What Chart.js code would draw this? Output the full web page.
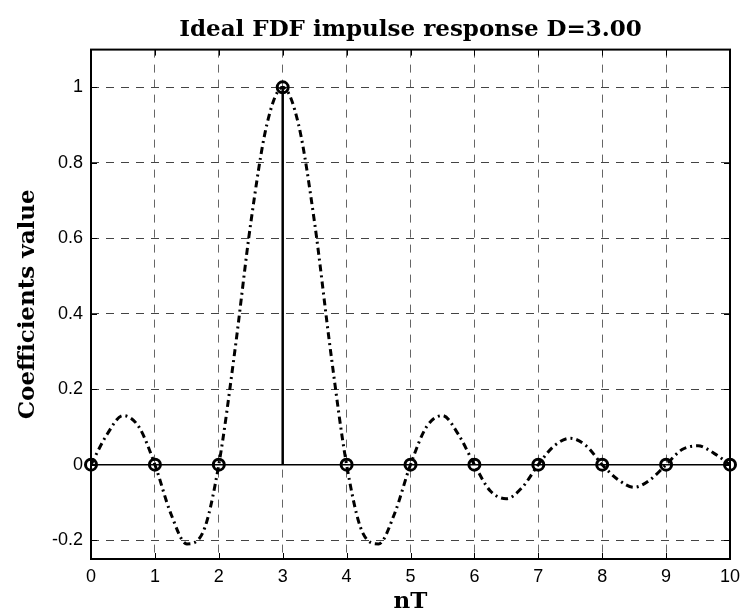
<!DOCTYPE html>
<html>
<head>
<meta charset="utf-8">
<script src="https://cdn.jsdelivr.net/npm/chart.js@4"></script>
<style>
  body { margin: 0; background: #fff; }
</style>
</head>
<body>
<canvas id="firChart" width="742" height="616"></canvas>
<script>
// ideal fractional delay filter, delay D = 3.00
var titleText = "Ideal FDF impulse response D=3.00";

// continuous response (dash-dot curve)
var curveX = [0, 0.25, 0.5, 0.75, 1, 1.25, 1.5, 1.75, 2, 2.25, 2.5, 2.75, 3,
              3.25, 3.5, 3.75, 4, 4.25, 4.5, 4.75, 5, 5.25, 5.5, 5.75, 6,
              6.25, 6.5, 6.75, 7, 7.25, 7.5, 7.75, 8, 8.25, 8.5, 8.75, 9,
              9.25, 9.5, 9.75, 10];
var curveY = [0, 0.08, 0.13, 0.10, 0, -0.13, -0.21, -0.18, 0, 0.30, 0.64, 0.90, 1,
              0.90, 0.64, 0.30, 0, -0.18, -0.21, -0.13, 0, 0.10, 0.13, 0.08, 0,
              -0.07, -0.09, -0.06, 0, 0.05, 0.07, 0.05, 0, -0.04, -0.06, -0.04, 0,
              0.04, 0.05, 0.03, 0];

// filter coefficients (stems)
var sampleX = [0, 1, 2, 3, 4, 5, 6, 7, 8, 9, 10];
var sampleY = [0, 0, 0, 1, 0, 0, 0, 0, 0, 0, 0];

var xTicks = [0, 1, 2, 3, 4, 5, 6, 7, 8, 9, 10];
var yTicks = [-0.2, 0, 0.2, 0.4, 0.6, 0.8, 1];
var yTickLabels = ["-0.2", "0", "0.2", "0.4", "0.6", "0.8", "1"];

var curvePoints = [];
for (var i = 0; i < curveX.length; i++) {
    curvePoints.push({x: curveX[i], y: curveY[i]});
}

var stemPoints = [];
var markerPoints = [];
for (var i = 0; i < sampleX.length; i++) {
    stemPoints.push({x: sampleX[i], y: 0});
    stemPoints.push({x: sampleX[i], y: sampleY[i]});
    stemPoints.push({x: sampleX[i], y: null});
    markerPoints.push({x: sampleX[i], y: sampleY[i]});
}

var baseline = [{x: sampleX[0], y: 0}, {x: sampleX[sampleX.length - 1], y: 0}];

// matlab style box with inward ticks
var boxPlugin = {
    id: 'box',
    beforeDatasetsDraw: function (chart) {
        var ctx = chart.ctx;
        var a = chart.chartArea;
        var xs = chart.scales.x;
        var ys = chart.scales.y;
        var len = 6;
        ctx.save();
        ctx.strokeStyle = '#000';
        ctx.lineWidth = 1;
        ctx.beginPath();
        xs.ticks.forEach(function (t) {
            var px = Math.round(xs.getPixelForValue(t.value)) + 0.5;
            ctx.moveTo(px, a.bottom); ctx.lineTo(px, a.bottom - len);
            ctx.moveTo(px, a.top); ctx.lineTo(px, a.top + len);
        });
        ys.ticks.forEach(function (t) {
            var py = Math.round(ys.getPixelForValue(t.value)) + 0.5;
            ctx.moveTo(a.left, py); ctx.lineTo(a.left + len, py);
            ctx.moveTo(a.right, py); ctx.lineTo(a.right - len, py);
        });
        ctx.stroke();
        ctx.lineWidth = 2;
        ctx.strokeRect(a.left, a.top, a.right - a.left, a.bottom - a.top);
        ctx.restore();
    }
};

var config = {
    type: 'scatter',
    data: {
        datasets: [{
            data: baseline,
            showLine: true,
            borderColor: '#000',
            borderWidth: 1.5,
            pointRadius: 0
        }, {
            data: stemPoints,
            showLine: true,
            spanGaps: false,
            borderColor: '#000',
            borderWidth: 2.5,
            pointRadius: 0
        }, {
            data: curvePoints,
            showLine: true,
            borderColor: '#000',
            borderWidth: 3,
            borderDash: [7, 4, 2, 4],
            cubicInterpolationMode: 'monotone',
            pointRadius: 0
        }, {
            data: markerPoints,
            showLine: false,
            clip: false,
            pointStyle: 'circle',
            pointRadius: 5.5,
            pointBorderWidth: 3,
            pointBorderColor: '#000',
            pointBackgroundColor: 'rgba(0,0,0,0)'
        }]
    },
    options: {
        responsive: false,
        animation: false,
        layout: { padding: { top: 0, right: 12, bottom: 0, left: 0 } },
        plugins: {
            legend: { display: false },
            tooltip: { enabled: false },
            title: {
                display: true,
                fullSize: false,
                text: titleText,
                color: '#000',
                font: { family: 'DejaVu Serif', size: 23, weight: 'bold' },
                padding: { top: 16, bottom: 6 }
            }
        },
        scales: {
            x: {
                type: 'linear',
                min: 0,
                max: 10,
                afterBuildTicks: function (scale) {
                    scale.ticks = xTicks.map(function (v) { return {value: v}; });
                },
                afterFit: function (scale) {
                    scale.height = 57;
                    scale.paddingLeft = 0;
                    scale.paddingRight = 0;
                },
                grid: { color: '#666', lineWidth: 1, drawTicks: false },
                border: { display: false, dash: [8, 7] },
                ticks: {
                    color: '#000',
                    padding: 7,
                    maxRotation: 0,
                    font: { family: 'Liberation Sans', size: 18 }
                },
                title: {
                    display: true,
                    text: 'nT',
                    color: '#000',
                    font: { family: 'DejaVu Serif', size: 23, weight: 'bold' },
                    padding: { top: 0, bottom: 0 }
                }
            },
            y: {
                type: 'linear',
                min: -0.25,
                max: 1.1,
                afterBuildTicks: function (scale) {
                    scale.ticks = yTicks.map(function (v) { return {value: v}; });
                },
                afterFit: function (scale) {
                    scale.width = 91;
                    scale.paddingTop = 0;
                    scale.paddingBottom = 0;
                },
                grid: { color: '#444', lineWidth: 1, drawTicks: false },
                border: { display: false, dash: [8, 7] },
                ticks: {
                    color: '#000',
                    padding: 8,
                    font: { family: 'Liberation Sans', size: 18 },
                    callback: function (value, index) { return yTickLabels[index]; }
                },
                title: {
                    display: true,
                    text: 'Coefficients value',
                    color: '#000',
                    font: { family: 'DejaVu Serif', size: 23, weight: 'bold' },
                    padding: { top: 14, bottom: 0 }
                }
            }
        }
    },
    plugins: [boxPlugin]
};

var firChart = new Chart(document.getElementById('firChart'), config);
</script>
</body>
</html>
